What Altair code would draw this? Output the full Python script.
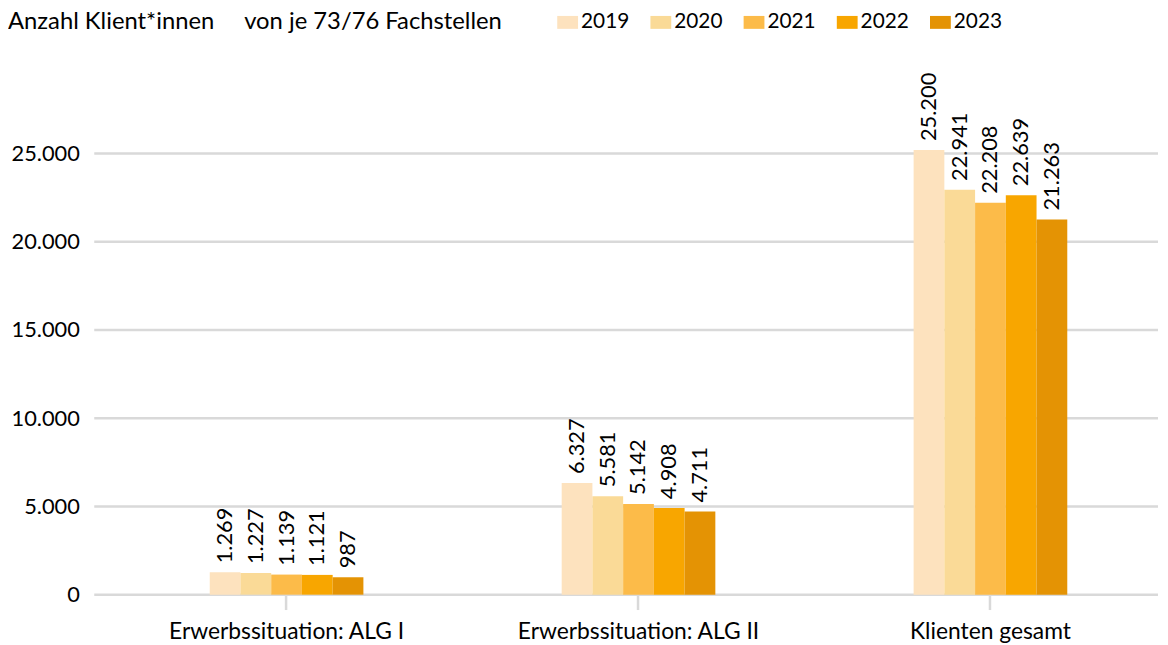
import altair as alt
import pandas as pd

categories = ["Erwerbssituation: ALG I", "Erwerbssituation: ALG II", "Klienten gesamt"]
years = ["2019", "2020", "2021", "2022", "2023"]
alg1 = [1269, 1227, 1139, 1121, 987]
alg2 = [6327, 5581, 5142, 4908, 4711]
gesamt = [25200, 22941, 22208, 22639, 21263]
colors = ["#FDE2BE", "#FADA97", "#FCBB49", "#F8A600", "#E49304"]
y_ticks = [0, 5000, 10000, 15000, 20000, 25000]
header = "Anzahl Klient*innen\u00a0\u00a0\u00a0\u00a0\u00a0von je 73/76 Fachstellen"

rows = []
for cat, vals in zip(categories, [alg1, alg2, gesamt]):
    for yr, v in zip(years, vals):
        rows.append({"cat": cat, "year": yr, "value": v})
df = pd.DataFrame(rows)
grid_df = pd.DataFrame({"value": y_ticks})

FONT = "Lato"
W, H = 1073, 534

y_enc = alt.Y(
    "value:Q",
    title=None,
    scale=alt.Scale(domain=[0, 30000], nice=False),
    axis=alt.Axis(
        values=y_ticks, format=",.0f", labelFontSize=22, labelFont=FONT, labelColor="black",
        domain=False, ticks=False, tickSize=0, labelPadding=15, grid=False,
        minExtent=87, maxExtent=87,
    ),
)

grid = alt.Chart(grid_df).mark_rule(color="#D9D9D9", strokeWidth=2.5).encode(
    y=y_enc, x=alt.value(0), x2=alt.value(W)
)

base = alt.Chart(df).encode(
    x=alt.X(
        "cat:N",
        sort=categories,
        title=None,
        scale=alt.Scale(paddingInner=0.5634, paddingOuter=0.293, align=0.56),
        axis=alt.Axis(
            labelAngle=0, labelFontSize=23, labelFont=FONT, labelColor="black",
            labelLimit=500, domain=False, ticks=True, tickSize=15, tickColor="#D9D9D9",
            tickWidth=2.5, labelPadding=11, grid=False,
        ),
    ),
    xOffset=alt.XOffset("year:N", sort=years, scale=alt.Scale(paddingInner=0, paddingOuter=0)),
    y=y_enc,
)

bars = base.mark_bar().encode(
    color=alt.Color(
        "year:N",
        sort=years,
        scale=alt.Scale(domain=years, range=colors),
        legend=alt.Legend(
            title=header, titleOrient="left", titleFontSize=24, titleFont=FONT,
            titleFontWeight="normal", titleColor="black", titleLimit=800, titlePadding=55,
            titleBaseline="middle",
            orient="none", legendX=-87, legendY=-54, direction="horizontal",
            symbolType="M-1,-0.62H1V0.62H-1Z", symbolSize=441, symbolStrokeWidth=0,
            symbolOpacity=1, labelFontSize=21, labelFont=FONT, labelColor="black",
            labelOffset=3, columnPadding=21,
        ),
    )
)

labels = base.mark_text(
    angle=270, align="left", baseline="middle", dx=9, fontSize=22, font=FONT, color="black"
).encode(text=alt.Text("value:Q", format=","))

chart = (
    alt.layer(grid, bars, labels)
    .properties(width=W, height=H,
                padding={"top": 1, "left": 0, "right": 0, "bottom": 0})
    .configure(locale=alt.Locale(number=alt.NumberLocale(
        decimal=",", thousands=".", grouping=[3], currency=["", " €"])))
    .configure_view(stroke=None)
)

chart.save("out.html", embed_options={"renderer": "svg", "actions": False})
